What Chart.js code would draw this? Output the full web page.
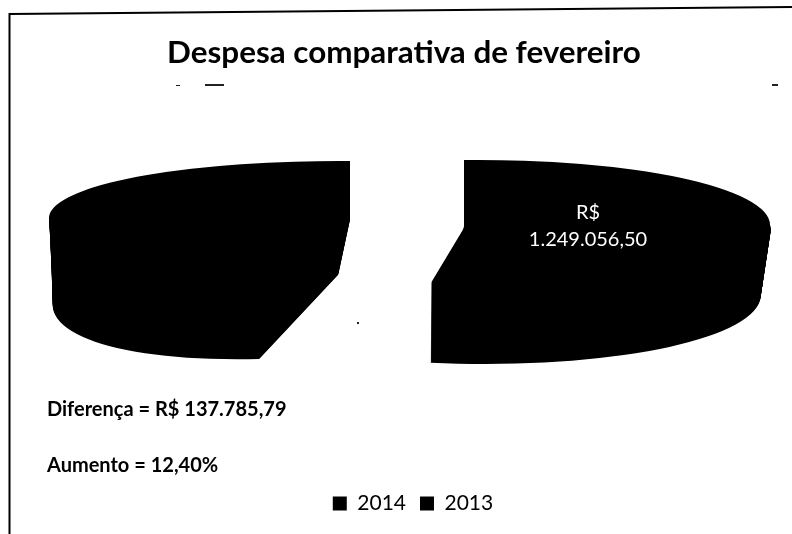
<!DOCTYPE html>
<html lang="pt-BR">
<head>
<meta charset="UTF-8">
<title>Despesa comparativa de fevereiro</title>
<script src="https://cdn.jsdelivr.net/npm/chart.js"></script>
<style>
  * { margin: 0; padding: 0; box-sizing: border-box; }
  body { background: #fff; width: 792px; height: 534px; overflow: hidden; position: relative; font-family: Lato, sans-serif; }
  #wrap { position: absolute; left: 0; top: 0; width: 792px; height: 534px; }
  .note { position: absolute; left: 47px; font-weight: bold; font-size: 20px; line-height: 24px; color: #000; white-space: nowrap; }
</style>
</head>
<body>
<div id="wrap"><canvas id="chart" width="792" height="534"></canvas></div>
<div class="note" style="top: 396px">Diferença = R$ 137.785,79</div>
<div class="note" style="top: 452px">Aumento = 12,40%</div>
<script>
const categories = ['2014', '2013'];
const values = [1249056.50, 1111270.71];
const sliceColors = ['#000000', '#000000'];

// Where each slice lands on the page: the back half and front half of the top
// face, then the front half of the bottom face (the scan has a strong perspective)
const sliceViews = [
  {
    top: { p: [464, 228], ex: [306, -3] },
    back: [0, 68],
    front: [23.4, 55],
    bottom: { p: [464, 290], ex: [296, 0], ey: [21, 74] }
  },
  {
    top: { p: [350, 220], ex: [301, 2] },
    back: [0, 59],
    front: [0, 65],
    bottom: { p: [338, 275], ex: [284, -22], ey: [-27.5, 81.4] }
  }
];

function drawFace(ctx, arc, p, ex, ey, half) {
  const R = arc.outerRadius;
  const a = ex[0] / R, b = ex[1] / R, c = ey[0] / R, d = ey[1] / R;
  ctx.save();
  ctx.transform(a, b, c, d, p[0] - a * arc.x - c * arc.y, p[1] - b * arc.x - d * arc.y);
  ctx.beginPath();
  if (half === 'back') ctx.rect(arc.x - R - 2, arc.y - R - 2, 2 * R + 4, R + 6);
  else ctx.rect(arc.x - R - 2, arc.y - 4, 2 * R + 4, R + 6);
  ctx.clip();
  arc.draw(ctx);
  ctx.restore();
}

const lerp = (u, v, t) => [u[0] + (v[0] - u[0]) * t, u[1] + (v[1] - u[1]) * t];

// Squashes the library's arcs into a solid 3D pie
const solidPie = {
  id: 'solidPie',
  afterLayout(chart) {
    chart.legend.left += 18;
  },
  beforeDatasetDraw(chart, args) {
    const ctx = chart.ctx;
    args.meta.data.forEach((arc, i) => {
      const view = sliceViews[i];
      drawFace(ctx, arc, view.top.p, view.top.ex, view.back, 'back');
      const layers = 80;
      for (let k = 0; k <= layers; k++) {
        const t = k / layers;
        drawFace(ctx, arc,
          lerp(view.top.p, view.bottom.p, t),
          lerp(view.top.ex, view.bottom.ex, t),
          lerp(view.front, view.bottom.ey, t), 'front');
      }
    });
    return false;
  },
  afterDatasetsDraw(chart) {
    const ctx = chart.ctx;
    ctx.save();
    ctx.fillStyle = '#ffffff';
    ctx.font = '20px Lato, sans-serif';
    ctx.textAlign = 'center';
    ctx.textBaseline = 'middle';
    ctx.fillText('R$', 588, 213);
    ctx.fillText(values[0].toLocaleString('pt-BR', { minimumFractionDigits: 2 }), 588, 240);
    ctx.restore();
  }
};

// Edges of the scanned page and a few specks
const scanMarks = {
  id: 'scanMarks',
  beforeDraw(chart) {
    const ctx = chart.ctx;
    ctx.save();
    ctx.strokeStyle = '#000';
    ctx.lineWidth = 2;
    ctx.beginPath();
    ctx.moveTo(9.5, 534);
    ctx.lineTo(9.5, 14);
    ctx.lineTo(792, 7);
    ctx.stroke();
    ctx.fillStyle = '#222';
    ctx.fillRect(205, 84, 19, 2);
    ctx.fillRect(176, 85, 4, 1);
    ctx.fillRect(772, 84, 6, 2);
    ctx.fillRect(357, 322, 2, 2);
    ctx.restore();
  }
};

new Chart(document.getElementById('chart'), {
  type: 'pie',
  data: {
    labels: categories,
    datasets: [{ data: values, backgroundColor: sliceColors, borderWidth: 0 }]
  },
  options: {
    responsive: false,
    animation: false,
    layout: { padding: { left: 16, bottom: 10 } },
    plugins: {
      title: {
        display: true,
        text: 'Despesa comparativa de fevereiro',
        color: '#000',
        font: { family: 'Lato, sans-serif', size: 31.4, weight: 'bold' },
        padding: { top: 34, bottom: 10 }
      },
      legend: {
        position: 'bottom',
        labels: {
          color: '#000',
          font: { family: 'Lato, sans-serif', size: 21 },
          boxWidth: 14,
          boxHeight: 14,
          padding: 14
        }
      },
      tooltip: { enabled: false }
    }
  },
  plugins: [scanMarks, solidPie]
});
</script>
</body>
</html>
